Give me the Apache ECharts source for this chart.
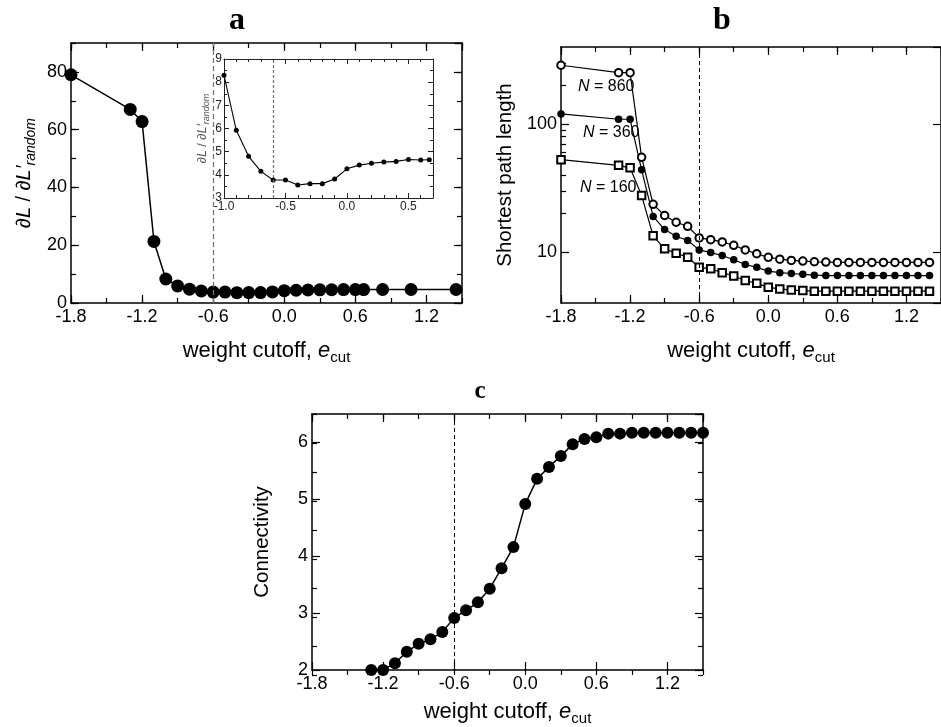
<!DOCTYPE html>
<html>
<head>
<meta charset="utf-8">
<script src="https://cdn.jsdelivr.net/npm/echarts@6/dist/echarts.min.js"></script>
<style>
  html, body { margin: 0; padding: 0; background: #fff; }
  #chart { width: 941px; height: 727px; }
</style>
</head>
<body>
<div id="chart"></div>
<script>
// ---- Panel a: path-length ratio against weight cutoff ----
const cutoffA = [-1.8, -1.3, -1.2, -1.1, -1.0, -0.9, -0.8, -0.7, -0.6, -0.5, -0.4, -0.3, -0.2, -0.1,
                 0.0, 0.1, 0.2, 0.3, 0.4, 0.5, 0.6, 0.67, 0.83, 1.07, 1.45];
const ratioA = [79, 67, 62.8, 21.3, 8.3, 5.92, 4.8, 4.15, 3.78, 3.78, 3.56, 3.62, 3.62, 3.82,
                4.26, 4.42, 4.5, 4.55, 4.58, 4.66, 4.64, 4.65, 4.68, 4.68, 4.68];
// inset window on the same data
const insetRange = [-1.0, 0.7];

// ---- Panel b: shortest path length for three network sizes ----
const cutoffB = [-1.8, -1.3, -1.2, -1.1, -1.0, -0.9, -0.8, -0.7, -0.6, -0.5, -0.4, -0.3, -0.2, -0.1,
                 0.0, 0.1, 0.2, 0.3, 0.4, 0.5, 0.6, 0.7, 0.8, 0.9, 1.0, 1.1, 1.2, 1.3, 1.4];
const path860 = [288, 252, 252, 55, 23.6, 19.3, 17.1, 15.9, 12.9, 12.5, 12.0, 11.3, 10.4, 9.7,
                 9.1, 8.8, 8.6, 8.5, 8.4, 8.35, 8.3, 8.3, 8.3, 8.3, 8.3, 8.3, 8.3, 8.3, 8.3];
const path360 = [120, 109, 109, 43.9, 19.0, 15.0, 13.3, 12.3, 10.4, 9.9, 9.4, 8.7, 8.0, 7.6,
                 7.1, 6.9, 6.8, 6.7, 6.6, 6.55, 6.55, 6.55, 6.55, 6.55, 6.55, 6.55, 6.55, 6.55, 6.55];
const path160 = [52.7, 47.6, 45.5, 27.7, 13.4, 10.6, 9.8, 9.1, 7.6, 7.4, 6.9, 6.5, 6.0, 5.7,
                 5.3, 5.15, 5.05, 5.0, 4.95, 4.95, 4.95, 4.95, 4.95, 4.95, 4.95, 4.95, 4.95, 4.95, 4.95];
const sizeLabels = ['860', '360', '160'];

// ---- Panel c: connectivity ----
const cutoffC = [-1.3, -1.2, -1.1, -1.0, -0.9, -0.8, -0.7, -0.6, -0.5, -0.4, -0.3, -0.2, -0.1,
                 0.0, 0.1, 0.2, 0.3, 0.4, 0.5, 0.6, 0.7, 0.8, 0.9, 1.0, 1.1, 1.2, 1.3, 1.4, 1.5];
const connectivity = [2.0, 2.0, 2.12, 2.32, 2.46, 2.54, 2.67, 2.915, 3.05, 3.19, 3.43, 3.79, 4.16,
                      4.92, 5.36, 5.57, 5.76, 5.97, 6.06, 6.09, 6.155, 6.155, 6.17, 6.17, 6.17, 6.17, 6.17, 6.17, 6.17];

// critical cutoff marked in every panel
const criticalCutoff = -0.6;

// minor ticks of the log axis in panel b
const logMinorTicks = [20, 30, 40, 50, 60, 70, 80, 90, 200, 300];

const SANS = '"Liberation Sans", Arial, "DejaVu Sans", sans-serif';
const SERIF = '"Liberation Serif", "DejaVu Serif", serif';

function pairs(xs, ys) { return xs.map((x, i) => [x, ys[i]]); }
function fmt1(v) { return (Math.abs(v) < 1e-9 ? 0 : v).toFixed(1); }

const grids = [], xAxes = [], yAxes = [];

// one axis of a framed panel: major layer (line, ticks, labels) or minor tick layer
function makeAxis(grid, pos, s, major, labeled) {
  const isLog = s.type === 'log';
  const color = s.color || '#000';
  const showTicks = major || !(s.noMinorOn || []).includes(pos);
  const a = {
    type: isLog ? 'log' : 'value',
    gridIndex: grid,
    position: pos,
    min: s.min,
    max: s.max,
    silent: true,
    splitLine: { show: false },
    axisLine: { show: major, onZero: false, lineStyle: { color: color, width: s.lw || 1.5 } },
    axisTick: {
      show: showTicks,
      inside: true,
      length: major ? (s.tickLen || 8) : (s.minorLen || 5),
      lineStyle: { color: color, width: s.tw || 1.2 }
    },
    axisLabel: {
      show: labeled,
      margin: s.margin || 5,
      fontSize: s.fontSize || 18,
      fontFamily: SANS,
      color: s.labelColor || '#000',
      showMaxLabel: !s.hideMax,
      showMinLabel: !s.hideMin,
      formatter: s.fmt
    }
  };
  if (isLog) {
    a.logBase = 10;
    if (!major) a.axisTick.customValues = s.minorVals;
  } else {
    a.interval = major ? s.major : s.minor;
  }
  if (labeled && s.name) {
    a.name = s.name;
    a.nameLocation = 'middle';
    a.nameGap = s.nameGap;
    a.nameTextStyle = s.nameStyle;
  }
  return a;
}

// framed panel: grid g carries data and major ticks, grid g+1 the minor ticks
function addPanel(rect, xs, ys) {
  const g = grids.length;
  grids.push({ containLabel: false, show: !!rect.bg, backgroundColor: rect.bg || 'transparent', borderWidth: 0,
    left: rect.left, top: rect.top, width: rect.width, height: rect.height });
  grids.push({ containLabel: false, left: rect.left, top: rect.top, width: rect.width, height: rect.height });
  const xi = xAxes.length, yi = yAxes.length;
  xAxes.push(makeAxis(g, 'bottom', xs, true, true));
  xAxes.push(makeAxis(g, 'top', xs, true, false));
  xAxes.push(makeAxis(g + 1, 'bottom', xs, false, false));
  xAxes.push(makeAxis(g + 1, 'top', xs, false, false));
  yAxes.push(makeAxis(g, 'left', ys, true, true));
  yAxes.push(makeAxis(g, 'right', ys, true, false));
  yAxes.push(makeAxis(g + 1, 'left', ys, false, false));
  yAxes.push(makeAxis(g + 1, 'right', ys, false, false));
  return { x: xi, y: yi };
}

const xNameStyle = {
  fontSize: 22, fontFamily: SANS, color: '#000', lineHeight: 28,
  rich: {
    i: { fontSize: 22, fontFamily: SANS, fontStyle: 'italic', lineHeight: 28 },
    s: { fontSize: 15, fontFamily: SANS, lineHeight: 14, verticalAlign: 'bottom' }
  }
};
const xName = 'weight cutoff, {i|e}{s|cut}';

function cutoffAxis(extra) {
  return Object.assign({ min: -1.8, max: 1.5, major: 0.6, minor: 0.3, fmt: fmt1, hideMax: true,
    name: xName, nameGap: 34, nameStyle: xNameStyle }, extra || {});
}

const ratioName = '∂{i|L} / ∂{i|L′}{s|random}';
function ratioStyle(big, small, color, lh) {
  return {
    fontSize: big, fontFamily: SANS, color: color, lineHeight: lh,
    rich: {
      i: { fontSize: big, fontFamily: SANS, fontStyle: 'italic', color: color, lineHeight: lh },
      s: { fontSize: small, fontFamily: SANS, fontStyle: 'italic', color: color, lineHeight: small, verticalAlign: 'bottom' }
    }
  };
}

const panelA = addPanel({ left: 71, top: 43, width: 391, height: 260 },
  cutoffAxis(),
  { min: 0, max: 90, major: 20, minor: 10, hideMax: true, margin: 4,
    name: ratioName, nameGap: 33, nameStyle: ratioStyle(20, 14, '#000', 28) });

const panelInset = addPanel({ left: 224, top: 59, width: 209, height: 139, bg: '#fff' },
  { min: insetRange[0], max: insetRange[1], major: 0.5, minor: 0.1, fmt: fmt1, hideMax: true,
    fontSize: 12, margin: 3, tickLen: 5, minorLen: 3, lw: 1, tw: 1, color: '#222', labelColor: '#222' },
  { min: 3, max: 9, major: 1, minor: 0.5, fontSize: 12, margin: 2, tickLen: 5, minorLen: 3, lw: 1, tw: 1,
    color: '#222', labelColor: '#222',
    name: ratioName, nameGap: 13, nameStyle: ratioStyle(12.5, 9, '#555', 16) });

const panelB = addPanel({ left: 561, top: 47, width: 383, height: 256 },
  cutoffAxis(),
  { type: 'log', min: 4, max: 400, minorVals: logMinorTicks,
    hideMin: true, hideMax: true, margin: 4, noMinorOn: ['right'],
    name: 'Shortest path length', nameGap: 44,
    nameStyle: { fontSize: 20.5, fontFamily: SANS, color: '#000', lineHeight: 24 } });

const panelC = addPanel({ left: 312, top: 414, width: 391, height: 261 },
  cutoffAxis({ nameGap: 28 }),
  { min: 2, max: 6.5, major: 1, minor: 0.5, hideMax: true, margin: 4,
    name: 'Connectivity', nameGap: 38,
    nameStyle: { fontSize: 20.5, fontFamily: SANS, color: '#000', lineHeight: 24 } });

function cutoffLine(color, dash, width) {
  return {
    silent: true, symbol: ['none', 'none'], label: { show: false },
    lineStyle: { color: color, type: dash, width: width },
    emphasis: { disabled: true },
    data: [{ xAxis: criticalCutoff }]
  };
}

const insetData = pairs(cutoffA, ratioA).filter(p => p[0] >= insetRange[0] - 1e-9 && p[0] <= insetRange[1]);

const black = '#000';
const series = [
  {
    type: 'line', xAxisIndex: panelA.x, yAxisIndex: panelA.y, data: pairs(cutoffA, ratioA),
    symbol: 'circle', symbolSize: 13, itemStyle: { color: black },
    lineStyle: { color: black, width: 1.5 }, clip: false,
    markLine: cutoffLine('#777', [5, 3], 1.3)
  },
  {
    type: 'line', xAxisIndex: panelInset.x, yAxisIndex: panelInset.y, data: insetData,
    symbol: 'circle', symbolSize: 5, itemStyle: { color: black },
    lineStyle: { color: black, width: 1.1 }, clip: false,
    markLine: cutoffLine('#777', [3, 2], 1.3)
  },
  {
    type: 'line', xAxisIndex: panelB.x, yAxisIndex: panelB.y, data: pairs(cutoffB, path860),
    symbol: 'emptyCircle', symbolSize: 7.5, itemStyle: { color: black, borderColor: black, borderWidth: 1 },
    lineStyle: { color: black, width: 1.2 }, clip: false,
    markLine: cutoffLine(black, [4, 3], 1)
  },
  {
    type: 'line', xAxisIndex: panelB.x, yAxisIndex: panelB.y, data: pairs(cutoffB, path360),
    symbol: 'circle', symbolSize: 7.5, itemStyle: { color: black },
    lineStyle: { color: black, width: 1.2 }, clip: false
  },
  {
    type: 'line', xAxisIndex: panelB.x, yAxisIndex: panelB.y, data: pairs(cutoffB, path160),
    symbol: 'emptyRect', symbolSize: 7.5, itemStyle: { color: black, borderColor: black, borderWidth: 1 },
    lineStyle: { color: black, width: 1.2 }, clip: false
  },
  {
    type: 'line', xAxisIndex: panelC.x, yAxisIndex: panelC.y, data: pairs(cutoffC, connectivity),
    symbol: 'circle', symbolSize: 12, itemStyle: { color: black },
    lineStyle: { color: black, width: 1.5 }, clip: false,
    markLine: cutoffLine(black, [4, 3], 1)
  }
];

function panelTitle(text, x, y, size) {
  return { type: 'text', x: x, y: y, silent: true,
    style: { text: text, fontFamily: SERIF, fontWeight: 'bold', fontSize: size, fill: '#000', align: 'center', verticalAlign: 'middle' } };
}
function sizeLabel(n, x, y) {
  return { type: 'text', x: x, y: y, silent: true,
    style: { text: '{i|N} = ' + n, fontFamily: SANS, fontSize: 16, fill: '#000', align: 'left', verticalAlign: 'middle',
      rich: { i: { fontFamily: SANS, fontSize: 16, fontStyle: 'italic', fill: '#000' } } } };
}

const chart = echarts.init(document.getElementById('chart'), null, { renderer: 'canvas' });
chart.setOption({
  backgroundColor: '#fff',
  animation: false,
  grid: grids,
  xAxis: xAxes,
  yAxis: yAxes,
  series: series,
  graphic: [
    panelTitle('a', 237, 21, 32),
    panelTitle('b', 722, 21, 32),
    panelTitle('c', 480, 392, 25),
    sizeLabel(sizeLabels[0], 578, 87),
    sizeLabel(sizeLabels[1], 583, 133),
    sizeLabel(sizeLabels[2], 580, 188)
  ]
});
</script>
</body>
</html>
